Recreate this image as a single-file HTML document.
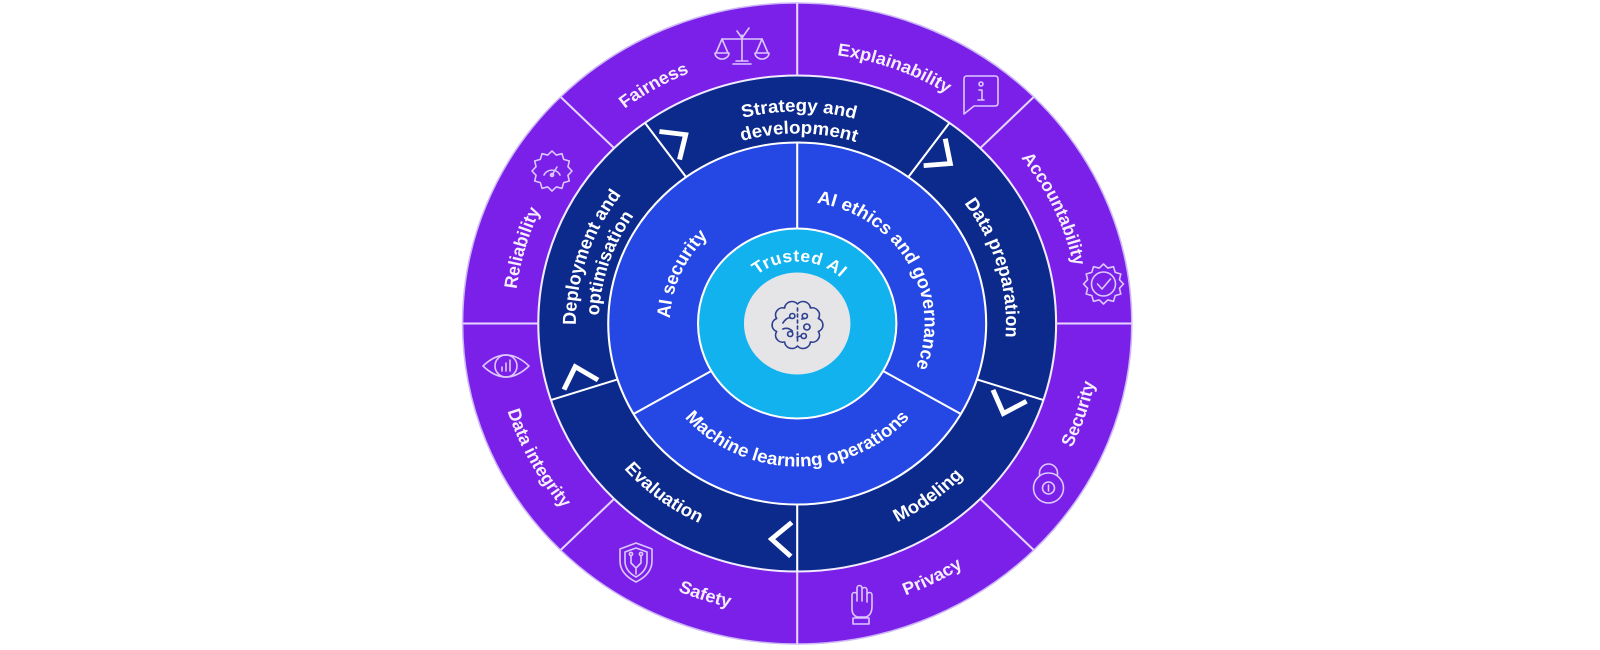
<!DOCTYPE html>
<html>
<head>
<meta charset="utf-8">
<style>
html,body{margin:0;padding:0;background:#ffffff;width:1600px;height:650px;overflow:hidden}
svg{display:block}
text{font-family:"Liberation Sans",Arial,sans-serif;font-weight:bold}
</style>
</head>
<body>
<svg width="1600" height="650" viewBox="0 0 1600 650" xmlns="http://www.w3.org/2000/svg">
<defs>
  <path id="o1" d="M0,271 A271,271 0 1 1 0,-271 A271,271 0 1 1 0,271"/>
  <path id="o2" d="M0,-291 A291,291 0 1 0 0,291 A291,291 0 1 0 0,-291"/>
  <path id="n1" d="M0,200 A200,200 0 1 1 0,-200 A200,200 0 1 1 0,200"/>
  <path id="n2" d="M0,-220.5 A220.5,220.5 0 1 0 0,220.5 A220.5,220.5 0 1 0 0,-220.5"/>
  <path id="n3" d="M0,212 A212,212 0 1 1 0,-212 A212,212 0 1 1 0,212"/>
  <path id="n4" d="M0,190 A190,190 0 1 1 0,-190 A190,190 0 1 1 0,190"/>
  <path id="b1" d="M0,122 A122,122 0 1 1 0,-122 A122,122 0 1 1 0,122"/>
  <path id="b2" d="M0,-143 A143,143 0 1 0 0,143 A143,143 0 1 0 0,-143"/>
  <path id="c1" d="M0,62 A62,62 0 1 1 0,-62 A62,62 0 1 1 0,62"/>
</defs>

<rect x="0" y="0" width="1600" height="650" fill="#ffffff"/>

<g transform="translate(797.2,323.5) scale(1.044,1)">
  <!-- rings -->
  <circle r="320.5" fill="#7b20e8" stroke="#cdb7f7" stroke-width="1.5"/>
  <circle r="248" fill="#0c2a8c" stroke="#f2eaff" stroke-width="2"/>
  <circle r="181" fill="#2547e3" stroke="#ffffff" stroke-width="2"/>
  <circle r="95" fill="#12b2ee" stroke="#ffffff" stroke-width="2"/>
  <circle r="51" fill="#e5e5e8"/>

  <!-- outer dividers -->
  <g stroke="#e6d6ff" stroke-width="2">
    <line x1="0" y1="-248" x2="0" y2="-320.5"/>
    <line x1="175.4" y1="-175.4" x2="226.6" y2="-226.6"/>
    <line x1="248" y1="0" x2="320.5" y2="0"/>
    <line x1="175.4" y1="175.4" x2="226.6" y2="226.6"/>
    <line x1="0" y1="248" x2="0" y2="320.5"/>
    <line x1="-175.4" y1="175.4" x2="-226.6" y2="226.6"/>
    <line x1="-248" y1="0" x2="-320.5" y2="0"/>
    <line x1="-175.4" y1="-175.4" x2="-226.6" y2="-226.6"/>
  </g>
  <!-- navy dividers -->
  <g stroke="#ffffff" stroke-width="2">
    <line x1="-106.4" y1="-146.4" x2="-145.8" y2="-200.6"/>
    <line x1="106.4" y1="-146.4" x2="145.8" y2="-200.6"/>
    <line x1="172.1" y1="55.9" x2="235.9" y2="76.6"/>
    <line x1="0" y1="181" x2="0" y2="248"/>
    <line x1="-172.1" y1="55.9" x2="-235.9" y2="76.6"/>
  </g>
  <!-- blue dividers -->
  <g stroke="#ffffff" stroke-width="2">
    <line x1="0" y1="-95" x2="0" y2="-181"/>
    <line x1="82.3" y1="47.5" x2="156.8" y2="90.5"/>
    <line x1="-82.3" y1="47.5" x2="-156.8" y2="90.5"/>
  </g>

  <!-- chevrons -->
  <g fill="none" stroke="#ffffff" stroke-width="4.8" stroke-linejoin="miter" stroke-linecap="butt">
    <polyline transform="rotate(-36)" points="6.1,-232.9 24.6,-215.6 5.2,-198.9"/>
    <polyline transform="rotate(36)" points="6.1,-232.9 24.6,-215.6 5.2,-198.9"/>
    <polyline transform="rotate(108)" points="6.1,-232.9 24.6,-215.6 5.2,-198.9"/>
    <polyline transform="rotate(180)" points="6.1,-232.9 24.6,-215.6 5.2,-198.9"/>
    <polyline transform="rotate(252)" points="6.1,-232.9 24.6,-215.6 5.2,-198.9"/>
  </g>

  <!-- outer labels -->
  <g font-size="17.5" fill="#f5eeff">
    <g transform="rotate(330)"><text><textPath href="#o1" startOffset="50%" text-anchor="middle">Fairness</textPath></text></g>
    <g transform="rotate(20)"><text><textPath href="#o1" startOffset="50%" text-anchor="middle">Explainability</textPath></text></g>
    <g transform="rotate(65)"><text><textPath href="#o1" startOffset="50%" text-anchor="middle">Accountability</textPath></text></g>
    <g transform="rotate(286)"><text><textPath href="#o1" startOffset="50%" text-anchor="middle">Reliability</textPath></text></g>
    <g transform="rotate(-71.5)"><text><textPath href="#o2" startOffset="50%" text-anchor="middle">Security</textPath></text></g>
    <g transform="rotate(-27)"><text><textPath href="#o2" startOffset="50%" text-anchor="middle">Privacy</textPath></text></g>
    <g transform="rotate(18)"><text><textPath href="#o2" startOffset="50%" text-anchor="middle">Safety</textPath></text></g>
    <g transform="rotate(61.5)"><text><textPath href="#o2" startOffset="50%" text-anchor="middle">Data integrity</textPath></text></g>
  </g>

  <!-- navy labels -->
  <g font-size="18" fill="#ffffff">
    <g transform="rotate(0.5)">
      <text><textPath href="#n3" startOffset="50%" text-anchor="middle">Strategy and</textPath></text>
      <text><textPath href="#n4" startOffset="50%" text-anchor="middle">development</textPath></text>
    </g>
    <g transform="rotate(73.5)"><text><textPath href="#n1" startOffset="50%" text-anchor="middle">Data preparation</textPath></text></g>
    <g transform="rotate(-36)"><text><textPath href="#n2" startOffset="50%" text-anchor="middle">Modeling</textPath></text></g>
    <g transform="rotate(37)"><text><textPath href="#n2" startOffset="50%" text-anchor="middle">Evaluation</textPath></text></g>
    <g transform="rotate(288.5)">
      <text><textPath href="#n3" startOffset="50%" text-anchor="middle">Deployment and</textPath></text>
      <text><textPath href="#n4" startOffset="50%" text-anchor="middle">optimisation</textPath></text>
    </g>
  </g>

  <!-- blue labels -->
  <g font-size="18" fill="#ffffff">
    <g transform="rotate(294)"><text><textPath href="#b1" startOffset="50%" text-anchor="middle">AI security</textPath></text></g>
    <g transform="rotate(60)"><text><textPath href="#b1" startOffset="50%" text-anchor="middle">AI ethics and governance</textPath></text></g>
    <g transform="rotate(0)"><text><textPath href="#b2" startOffset="50%" text-anchor="middle">Machine learning operations</textPath></text></g>
  </g>

  <!-- cyan label -->
  <g transform="rotate(2)" font-size="17" fill="#ffffff">
    <text letter-spacing="0.5"><textPath href="#c1" startOffset="50%" text-anchor="middle">Trusted AI</textPath></text>
  </g>
</g>

<!-- icons in the outer ring -->
<g fill="none" stroke="#dcc8ff" stroke-width="1.6" stroke-linecap="round" stroke-linejoin="round">
  <!-- Scales (Fairness) -->
  <g transform="translate(742,47)">
    <path d="M0,-12 V14 M-9,17 H9 M-6,14 H6 M-20,-8 H20"/>
    <path d="M-5,-16 L0,-9 L7,-19"/>
    <path d="M-20,-8 L-26,6 M-20,-8 L-14,6 M-27,6 H-13 A7,6 0 0 1 -27,6"/>
    <path d="M20,-8 L14,6 M20,-8 L26,6 M13,6 H27 A7,6 0 0 1 13,6"/>
  </g>
  <!-- Info bubble (Explainability) -->
  <g transform="translate(980,93)">
    <path d="M-6,13 H15 Q18,13 18,10 V-14 Q18,-17 15,-17 H-13 Q-16,-17 -16,-14 V21 Z"/>
    <circle cx="1" cy="-9" r="2"/>
    <path d="M-1,-3 H2 V7 M-2,7 H4"/>
  </g>
  <!-- Badge (Accountability) -->
  <g transform="translate(1103.5,284)">
    <polygon points="0,-20 4.27,-15.94 10,-17.32 11.67,-11.67 17.32,-10 15.94,-4.27 20,0 15.94,4.27 17.32,10 11.67,11.67 10,17.32 4.27,15.94 0,20 -4.27,15.94 -10,17.32 -11.67,11.67 -17.32,10 -15.94,4.27 -20,0 -15.94,-4.27 -17.32,-10 -11.67,-11.67 -10,-17.32 -4.27,-15.94"/>
    <circle r="12"/>
    <path d="M-6,0 L-1.5,5 L7,-5"/>
  </g>
  <!-- Lock (Security) -->
  <g transform="translate(1048.5,483)">
    <circle cx="0" cy="5" r="15"/>
    <path d="M-9,-8 V-10 A9,9 0 0 1 9,-10 V-8"/>
    <circle cx="0" cy="5" r="6"/>
    <path d="M0,2 V8"/>
  </g>
  <!-- Hand (Privacy) -->
  <g transform="translate(861,603)">
    <path d="M-9,6 V-8 A2.5,2.5 0 0 1 -4,-8 V-2 V-15 A2.5,2.5 0 0 1 1,-15 V-2 V-13 A2.5,2.5 0 0 1 6,-13 V-1 V-8 A2.5,2.5 0 0 1 11,-8 V3 Q11,12 5,14 H-4 Q-9,12 -9,6 Z"/>
    <rect x="-8" y="15" width="16" height="6"/>
  </g>
  <!-- Shield (Safety) -->
  <g transform="translate(636,562)">
    <path d="M0,-19 L16,-13 V-1 Q16,12 0,20 Q-16,12 -16,-1 V-13 Z"/>
    <path d="M0,-14 L11,-10 V-1 Q11,9 0,15 Q-11,9 -11,-1 V-10 Z"/>
    <path d="M-5,-6 V1 L0,6 V12 M5,-6 V1 L0,6"/>
    <circle cx="-5" cy="-8" r="1.6"/>
    <circle cx="5" cy="-8" r="1.6"/>
  </g>
  <!-- Eye (Data integrity) -->
  <g transform="translate(506,366)">
    <path d="M-23,0 Q0,-22 23,0 Q0,22 -23,0 Z"/>
    <circle r="11"/>
    <path d="M-4,5 V1 M0,5 V-3 M4,5 V-6"/>
  </g>
  <!-- Gear (Reliability) -->
  <g transform="translate(552,171)">
    <polygon points="0,-20 4.27,-15.94 10,-17.32 11.67,-11.67 17.32,-10 15.94,-4.27 20,0 15.94,4.27 17.32,10 11.67,11.67 10,17.32 4.27,15.94 0,20 -4.27,15.94 -10,17.32 -11.67,11.67 -17.32,10 -15.94,4.27 -20,0 -15.94,-4.27 -17.32,-10 -11.67,-11.67 -10,-17.32 -4.27,-15.94"/>
    <path d="M-8,4 A9,9 0 0 1 8,4"/>
    <path d="M0,4 L5,-4"/>
    <circle cx="0" cy="4" r="1.5"/>
  </g>
</g>

<!-- center icon -->
<g transform="translate(797.5,325) scale(1.044,1)" fill="none" stroke="#2d3f8e" stroke-width="1.6" stroke-linecap="round" stroke-linejoin="round">
  <path d="M0,-21 A7,7 0 0 1 12.34,-16.99 A7,7 0 0 1 19.97,-6.49 A7,7 0 0 1 19.97,6.49 A7,7 0 0 1 12.34,16.99 A7,7 0 0 1 0,21 A7,7 0 0 1 -12.34,16.99 A7,7 0 0 1 -19.97,6.49 A7,7 0 0 1 -19.97,-6.49 A7,7 0 0 1 -12.34,-16.99 A7,7 0 0 1 0,-21 Z"/>
  <path d="M0,-17 V17" stroke-dasharray="3,3"/>
  <circle cx="-5" cy="-9" r="2.5"/>
  <circle cx="7" cy="-9" r="2.5"/>
  <circle cx="9" cy="2" r="3"/>
  <circle cx="-7" cy="9" r="2.5"/>
  <circle cx="6" cy="11" r="2.5"/>
  <path d="M-14,-2 Q-10,-8 -7,-7 M-14,4 Q-9,2 -5,6 M4,-6 L7,-6.5 M3,11 L-0.5,12"/>
</g>
</svg>
</body>
</html>
